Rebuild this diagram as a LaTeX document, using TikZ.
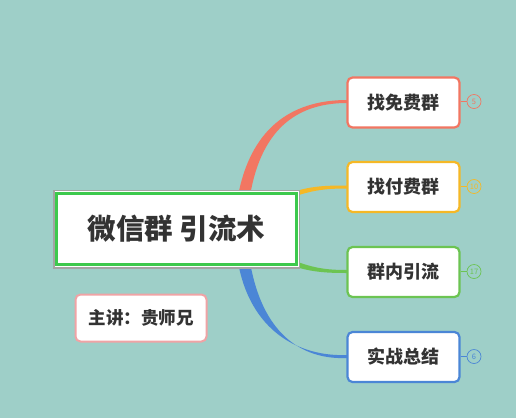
\documentclass[tikz,border=0pt]{standalone}
\usepackage{fontspec}
\setmainfont{Noto Sans CJK SC}
\begin{document}
\begin{tikzpicture}[x=1pt,y=-1pt,
  branch/.style={draw=#1, line width=2.2pt, fill=white, rounded corners=5pt,
    minimum width=112pt, minimum height=50pt, inner sep=0pt, text=textgray,
    font=\fontsize{18}{20}\selectfont\bfseries},
  badge/.style={circle, draw=#1, line width=0.7pt, minimum size=14pt, inner sep=0pt,
    text=#1, font=\fontsize{7.5}{8}\selectfont},
  stub/.style={draw=#1, line width=1.2pt}]
\definecolor{bg}{HTML}{9ECFC8}
\definecolor{cred}{HTML}{F27662}
\definecolor{cyellow}{HTML}{F5B826}
\definecolor{cgreen}{HTML}{6CC452}
\definecolor{cblue}{HTML}{4B86D6}
\definecolor{cmain}{HTML}{3DC94D}
\definecolor{cgrayb}{HTML}{A3A3A3}
\definecolor{cpink}{HTML}{F0A3A5}
\definecolor{textgray}{HTML}{333333}
\useasboundingbox[fill=bg] (0,0) rectangle (516,418);

% tapered connectors
\fill[cred] (238,196) .. controls (252,122) and (298,100) .. (347,100)
  -- (347,103) .. controls (302,103) and (262,124) .. (250,196) -- cycle;
\fill[cblue] (238,262) .. controls (250,330) and (298,357) .. (347,355)
  -- (347,358) .. controls (300,360) and (262,332) .. (250,262) -- cycle;
\fill[cyellow] (290,193) .. controls (310,186) and (325,185.5) .. (347,185.5)
  -- (347,188.5) .. controls (326,188.5) and (312,190) .. (290,198) -- cycle;
\fill[cgreen] (290,259) .. controls (312,268) and (326,270) .. (347,270)
  -- (347,273) .. controls (325,273) and (310,272) .. (290,265) -- cycle;

% central node
\draw[cgrayb, line width=1.5pt, fill=white] (54,190.5) rectangle (299.5,268);
\node[draw=cmain, line width=3.2pt, fill=white, minimum width=240pt, minimum height=71pt,
  inner sep=0pt, text=textgray, font=\fontsize{28.5}{32}\selectfont\bfseries]
  (root) at (176.5,229) {微信群 引流术};

% branches
\node[branch=cred] (b1) at (403.5,102.5) {找免费群};
\node[branch=cyellow] (b2) at (403.5,187) {找付费群};
\node[branch=cgreen] (b3) at (403.5,272) {群内引流};
\node[branch=cblue] (b4) at (403.5,357) {实战总结};

% badges
\node[badge=cred] (n1) at (474,101.5) {5};
\node[badge=cyellow] (n2) at (474,186.5) {10};
\node[badge=cgreen] (n3) at (474,271.5) {17};
\node[badge=cblue] (n4) at (474,356.5) {6};
\draw[stub=cred] (b1.east |- n1) -- (n1.west);
\draw[stub=cyellow] (b2.east |- n2) -- (n2.west);
\draw[stub=cgreen] (b3.east |- n3) -- (n3.west);
\draw[stub=cblue] (b4.east |- n4) -- (n4.west);

% speaker note
\node[draw=cpink, line width=2pt, fill=white, rounded corners=5pt,
  minimum width=131pt, minimum height=47pt, inner sep=0pt, text=textgray,
  font=\fontsize{17.5}{20}\selectfont\bfseries] (sp) at (141,318) {主讲：贵师兄};
\end{tikzpicture}
\end{document}
